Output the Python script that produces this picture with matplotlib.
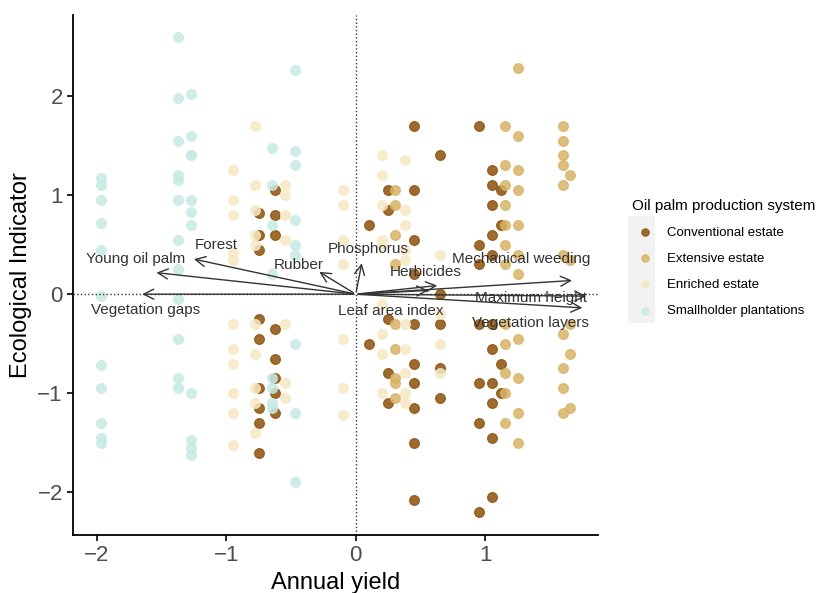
import matplotlib
matplotlib.use("Agg")
import matplotlib.pyplot as plt
from matplotlib.patches import Rectangle
import numpy as np

plt.rcParams['font.family'] = ['Liberation Sans', 'DejaVu Sans']

# columns of points: (x, [y values]) per production system
conventional = [
    (-0.75, [0.82, 0.6, 0.45, -0.25, -0.45, -0.95, -1.15, -1.6, -1.3]),
    (-0.62, [1.05, 0.8, 0.6, -0.35, -0.65, -0.85, -1.0, -1.2]),
    (0.1, [0.7, -0.5]),
    (0.25, [1.05, 0.85, -0.25, -0.8, -1.1]),
    (0.45, [1.7, 1.05, 0.55, 0.2, -0.3, -0.7, -0.9, -1.15, -1.5, -2.08]),
    (0.65, [1.4, 0.0, -0.3, -0.75, -1.05]),
    (0.95, [1.7, 0.5, 0.3, -0.3, -0.9, -1.3, -2.2]),
    (1.05, [1.25, 1.1, 0.9, 0.6, 0.4, -0.3, -0.55, -0.9, -1.1, -1.45, -2.05]),
    (1.12, [1.05, 0.7, -0.7, -1.0]),
]
extensive = [
    (0.3, [1.05, 0.9, 0.6, 0.3, -0.3, -0.55, -0.85, -0.9, -1.05]),
    (1.15, [1.7, 1.3, 1.1, 0.9, 0.7, 0.5, 0.3, -0.3, -0.5, -0.8, -1.0, -1.3]),
    (1.25, [2.28, 1.6, 1.25, 1.05, 0.7, 0.4, 0.2, -0.45, -0.85, -1.2, -1.5]),
    (1.6, [1.7, 1.55, 1.4, 1.3, 1.1, 0.4, -0.4, -0.75, -0.95, -1.2]),
    (1.65, [1.2, 0.35, -0.3, -0.6, -1.15]),
]
enriched = [
    (-0.95, [1.25, 0.95, 0.8, 0.42, 0.35, -0.3, -0.55, -0.7, -1.0, -1.2, -1.52]),
    (-0.78, [1.7, 1.1, 0.85, 0.6, 0.5, -0.3, -0.6, -0.95, -1.1, -1.4]),
    (-0.55, [1.1, 1.0, 0.8, 0.55, -0.3, -0.9, -1.05]),
    (-0.1, [1.05, 0.9, 0.55, 0.3, -0.45, -0.95, -1.22]),
    (0.2, [1.4, 1.2, 0.9, 0.55, 0.5, -0.1, -0.4, -0.6, -1.0]),
    (0.38, [1.35, 0.85, 0.7, 0.45, 0.35, -0.3, -0.55, -0.8, -1.0, -1.1]),
    (0.65, [0.4, -0.2, -0.5, -0.8]),
]
smallholder = [
    (-1.97, [1.17, 1.1, 0.95, 0.72, 0.45, -0.02, -0.72, -0.95, -1.3, -1.45, -1.5]),
    (-1.37, [2.6, 1.98, 1.55, 1.2, 1.15, 0.95, 0.55, 0.25, -0.05, -0.45, -0.85, -0.95]),
    (-1.27, [2.02, 1.6, 1.4, 1.4, 0.95, 0.83, 0.7, -1.0, -1.47, -1.55, -1.62]),
    (-0.65, [1.48, 1.1, 0.7, 0.2, -0.85, -0.95, -1.1, -1.15]),
    (-0.47, [2.26, 1.45, 1.3, 0.75, 0.5, 0.4, -0.5, -1.2, -1.9]),
]

arrow_names = ["Young oil palm", "Forest", "Vegetation gaps", "Rubber", "Phosphorus",
               "Herbicides", "Mechanical weeding", "Maximum height", "Vegetation layers",
               "Leaf area index"]
arrow_x = [-1.56, -1.27, -1.67, -0.3, 0.05, 0.65, 1.69, 1.8, 1.77, 0.58]
arrow_y = [0.22, 0.36, 0.0, 0.24, 0.34, 0.09, 0.14, -0.02, -0.14, 0.04]
label_x = [-1.7, -1.08, -1.62, -0.44, 0.1, 0.54, 1.28, 1.35, 1.35, 0.27]
label_y = [0.36, 0.5, -0.16, 0.29, 0.46, 0.22, 0.36, -0.04, -0.29, -0.17]

groups = [("Conventional estate", "#8C510A", conventional),
          ("Extensive estate", "#D8B365", extensive),
          ("Enriched estate", "#F6E8C3", enriched),
          ("Smallholder plantations", "#C7EAE5", smallholder)]

fig = plt.figure(figsize=(8.33, 5.93), dpi=100)
ax = fig.add_axes([0.088, 0.098, 0.63, 0.877])

for name, col, cols in groups:
    xs = np.concatenate([[x] * len(ys) for x, ys in cols])
    ys = np.concatenate([ys for x, ys in cols])
    ax.scatter(xs, ys, s=50, color=col, alpha=0.85, edgecolors=col, linewidths=0.8, label=name)

ax.axhline(0, color="#333333", lw=1, ls=":")
ax.axvline(0, color="#333333", lw=1, ls=":")

for name, ex, ey, lx, ly in zip(arrow_names, arrow_x, arrow_y, label_x, label_y):
    ax.annotate("", xy=(ex, ey), xytext=(0, 0),
                arrowprops=dict(arrowstyle="->", color="#333333", lw=1, mutation_scale=18))
    ax.text(lx, ly, name, fontsize=11, color="#333333", ha="center", va="center")

ax.set_xlim(-2.18, 1.87)
ax.set_ylim(-2.43, 2.82)
ax.set_xticks([-2, -1, 0, 1])
ax.set_yticks([-2, -1, 0, 1, 2])
ax.set_xticklabels(["\u22122", "\u22121", "0", "1"])
ax.set_yticklabels(["\u22122", "\u22121", "0", "1", "2"])
ax.tick_params(labelsize=16, labelcolor="#4d4d4d", length=4, width=1.2)
for s in ["top", "right"]:
    ax.spines[s].set_visible(False)
for s in ["left", "bottom"]:
    ax.spines[s].set_linewidth(1.3)
ax.set_xlabel("Annual yield", fontsize=17)
ax.set_ylabel("Ecological Indicator", fontsize=17)

# grey key strip behind the legend markers
fig.patches.append(Rectangle((0.754, 0.455), 0.032, 0.18, transform=fig.transFigure,
                             facecolor="#F2F2F2", edgecolor="none", zorder=0))

leg = fig.legend(loc="upper left", bbox_to_anchor=(0.744, 0.685), frameon=False,
                 title="Oil palm production system", fontsize=9.5, title_fontsize=11,
                 handletextpad=0.7, labelspacing=1.05, markerscale=0.75)
leg._legend_box.align = "left"

fig.savefig("out.png", dpi=100)
